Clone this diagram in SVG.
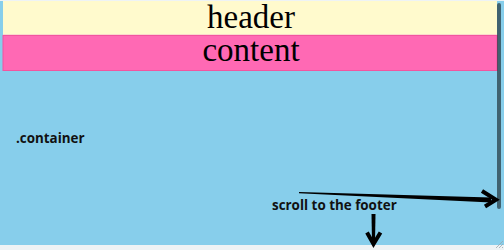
<svg xmlns="http://www.w3.org/2000/svg" width="504" height="250" viewBox="0 0 504 250">
  <style>
    .serif { font-family: "Liberation Serif", "Times New Roman", serif; font-size: 33px; fill: #000; text-anchor: middle; }
    .note { font-family: "Open Sans", "DejaVu Sans", sans-serif; font-size: 13.4px; font-weight: bold; fill: #111; }
    .shaft { fill: #000; }
    .head { fill: none; stroke: #000; stroke-width: 4; stroke-linecap: butt; stroke-linejoin: miter; }
  </style>

  <!-- page frame -->
  <rect x="0" y="0" width="504" height="250" fill="#eef3f5"/>
  <rect id="container-box" x="0" y="1" width="504" height="244" fill="#87CEEB"/>

  <g id="header">
    <rect x="3" y="1" width="494" height="34" fill="#FFFACD"/>
    <line x1="3" y1="35" x2="497" y2="35" stroke="#f7b6cc" stroke-width="1"/>
    <text class="serif" x="251" y="27.5">header</text>
  </g>

  <g id="content">
    <rect x="3" y="35.5" width="494" height="35" fill="#FF69B4" stroke="#f2559f" stroke-width="1"/>
    <text class="serif" x="251" y="61">content</text>
  </g>

  <g id="container">
    <text class="note" x="16" y="143">.container</text>
  </g>

  <!-- scrollbar thumb and resize grip -->
  <g id="scrollbar">
    <rect x="497" y="3" width="4" height="206" rx="2" fill="#000" fill-opacity="0.52"/>
    <g stroke="#9aa7ad" stroke-width="0.8">
      <line x1="496" y1="248" x2="503" y2="241"/>
      <line x1="499" y1="248" x2="503" y2="244"/>
      <line x1="502" y1="248" x2="503" y2="247"/>
    </g>
  </g>

  <g id="scroll-note">
    <text class="note" x="272" y="209.5">scroll to the footer</text>
  </g>

  <g id="connectors">
    <!-- tapered arrow toward the scrollbar -->
    <polygon class="shaft" points="299,192 491,197.6 491,202.6 299,193.2"/>
    <polyline class="head" points="482,191 496,199.8 485,206.5"/>
    <!-- downward arrow toward the footer -->
    <polygon class="shaft" points="371.5,214 375.5,214 375,243 372,243"/>
    <polyline class="head" points="367,232.5 373.5,244 380.5,232.5"/>
  </g>
</svg>
